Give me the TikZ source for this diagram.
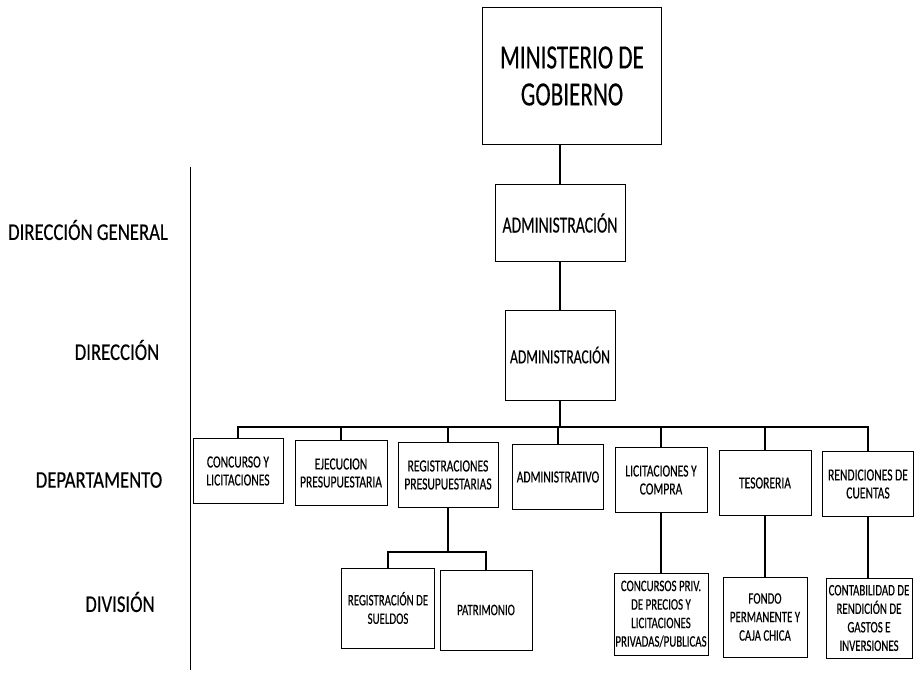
\documentclass[tikz,border=0pt]{standalone}
\usepackage{fontspec}
\setmainfont{Carlito}[FakeStretch=0.68, FakeBold=0.3]
\newfontfamily\nivelfont{Carlito}[FakeStretch=0.78, FakeBold=0.3]
\begin{document}
\begin{tikzpicture}[x=1pt,y=-1pt,
  caja/.style={draw, line width=0.6pt, align=center, inner sep=1pt},
  depto/.style={caja, minimum height=65pt, font=\fontsize{17}{18}\selectfont},
  divi/.style={caja, minimum height=80pt, font=\fontsize{16}{18.5}\selectfont},
  nivel/.style={font=\nivelfont\fontsize{24}{26}\selectfont},
  linea/.style={draw, line width=1.1pt}]
\useasboundingbox (0,0) rectangle (914,674);

% niveles
\node[nivel] (g) at (88,230) {DIRECCIÓN GENERAL};
\node[nivel] (d) at (117,350) {DIRECCIÓN};
\node[nivel] (p) at (99,480) {DEPARTAMENTO};
\node[nivel] (v) at (120,602) {DIVISIÓN};
\coordinate (top) at (190,167);
\coordinate (bot) at (190,670);
\path[draw, line width=0.6pt] (top) -- (bot);

% ministerio y direcciones
\node[caja, minimum width=179pt, minimum height=137pt, font=\fontsize{34}{37}\selectfont] (1) at (572,76) {MINISTERIO DE\\GOBIERNO};
\node[caja, minimum width=130pt, minimum height=77pt, font=\fontsize{23}{25}\selectfont] (2) at (560,223) {ADMINISTRACIÓN};
\node[caja, minimum width=110pt, minimum height=90pt, font=\fontsize{20}{22}\selectfont] (3) at (560,355) {ADMINISTRACIÓN};

% departamentos
\node[depto, minimum width=90pt] (4) at (238,471) {CONCURSO Y\\LICITACIONES};
\node[depto, minimum width=92pt] (5) at (341,473) {EJECUCION\\PRESUPUESTARIA};
\node[depto, minimum width=100pt] (6) at (448,475) {REGISTRACIONES\\PRESUPUESTARIAS};
\node[depto, minimum width=91pt] (7) at (558,477) {ADMINISTRATIVO};
\node[depto, minimum width=92pt] (8) at (661,480) {LICITACIONES Y\\COMPRA};
\node[depto, minimum width=92pt] (9) at (765,483) {TESORERIA};
\node[depto, minimum width=91pt] (10) at (868,484) {RENDICIONES DE\\CUENTAS};

% divisiones
\node[divi, minimum width=93pt] (11) at (388,608) {REGISTRACIÓN DE\\SUELDOS};
\node[divi, minimum width=92pt] (12) at (486,610) {PATRIMONIO};
\node[divi, minimum width=94pt, minimum height=82pt] (13) at (661,614) {CONCURSOS PRIV.\\DE PRECIOS Y\\LICITACIONES\\PRIVADAS/PUBLICAS};
\node[divi, minimum width=84pt] (14) at (765,617) {FONDO\\PERMANENTE Y\\CAJA CHICA};
\node[divi, minimum width=86pt] (15) at (869,618) {CONTABILIDAD DE\\RENDICIÓN DE\\GASTOS E\\INVERSIONES};

\coordinate (bus) at (560,427);
\coordinate (sub) at (448,552);

\path[linea] (2.north |- 1.south) -- (2);
\path[linea] (2) -- (3);
\path[linea] (3) -- (bus);
\foreach \i in {4,...,10}
  \path[linea] (\i.north) |- (bus);
\path[linea] (6) -- (sub);
\path[linea] (11.north) |- (sub);
\path[linea] (12.north) |- (sub);
\path[linea] (8) -- (13);
\path[linea] (9) -- (14);
\path[linea] (10.south) -- (10.south |- 15.north);
\end{tikzpicture}
\end{document}
